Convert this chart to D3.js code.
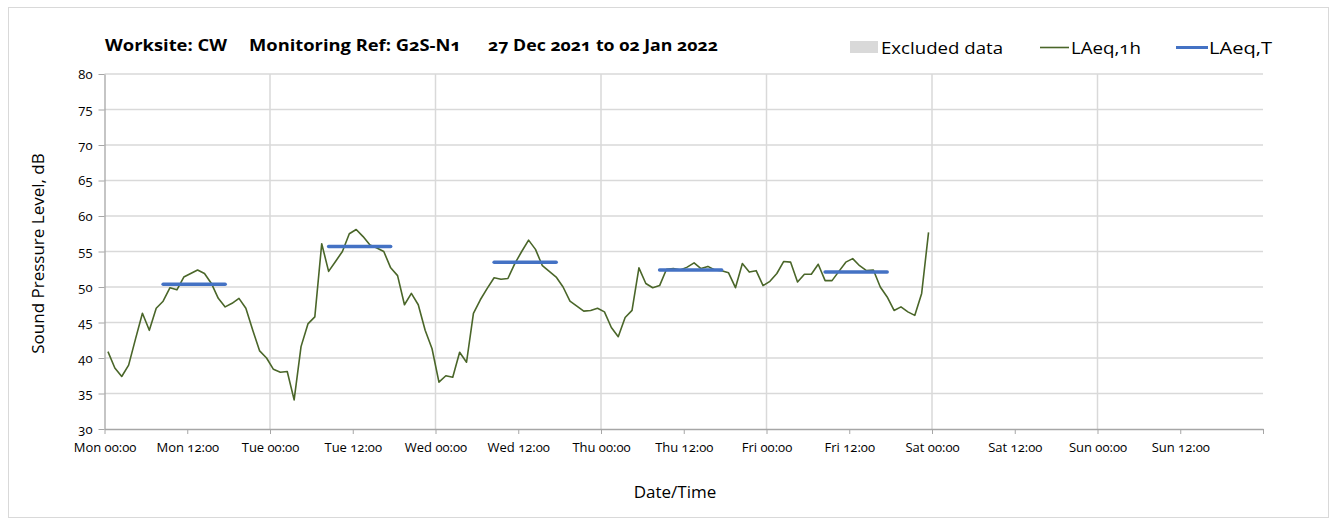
<!DOCTYPE html>
<html lang="en">
<head>
<meta charset="UTF-8">
<title>Noise monitoring G2S-N1</title>
<script src="https://d3js.org/d3.v7.min.js"></script>
<style>
  body { margin: 0; background: #fff; }
  svg text { font-family: "Open Sans", "Noto Sans", sans-serif; fill: #000; font-variant-numeric: oldstyle-nums; }
</style>
</head>
<body>
<div id="chart"></div>
<script>

// hourly LAeq,1h values, Mon 27 Dec 00:00 onwards (one per hour)
const laeq1h = [
  40.9, 38.6, 37.4, 39.0, 42.7, 46.3, 43.9, 47.0, 48.0, 49.9, 49.6, 51.4,
  51.9, 52.4, 51.9, 50.5, 48.4, 47.2, 47.7, 48.4, 47.0, 43.9, 41.0, 40.0,
  38.4, 38.0, 38.1, 34.1, 41.6, 44.8, 45.8, 56.1, 52.2, 53.6, 55.0, 57.5,
  58.1, 57.1, 55.9, 55.5, 55.0, 52.7, 51.6, 47.5, 49.1, 47.5, 43.9, 41.3,
  36.6, 37.5, 37.3, 40.8, 39.4, 46.3, 48.2, 49.8, 51.3, 51.1, 51.2, 53.3,
  55.0, 56.6, 55.3, 53.0, 52.2, 51.4, 50.0, 48.0, 47.3, 46.6, 46.7, 47.0,
  46.5, 44.3, 43.0, 45.7, 46.7, 52.7, 50.5, 49.9, 50.2, 52.5, 52.6, 52.4,
  52.8, 53.4, 52.6, 52.9, 52.4, 52.3, 52.0, 49.9, 53.3, 52.1, 52.3, 50.2,
  50.8, 51.9, 53.6, 53.5, 50.7, 51.8, 51.8, 53.2, 50.9, 50.9, 52.2, 53.5,
  54.0, 53.0, 52.3, 52.4, 50.0, 48.6, 46.7, 47.2, 46.5, 46.0, 49.1, 57.7
];

// LAeq,T over the daytime period of each day (hour index from start)
const tStartHour = [8, 32, 56, 80, 104];
const tEndHour = [17, 41, 65, 89, 113];
const tValues = [50.4, 55.7, 53.5, 52.4, 52.1];

const yTicks = [30, 35, 40, 45, 50, 55, 60, 65, 70, 75, 80];
const legendNames = ["Excluded data", "LAeq,1h", "LAeq,T"];
const titleParts = ["Worksite: CW", "Monitoring Ref: G2S-N1", "27 Dec 2021 to 02 Jan 2022"];

const width = 1336, height = 524;
const start = new Date(Date.UTC(2021, 11, 27, 0, 0));
const end = new Date(Date.UTC(2022, 0, 3, 0, 0));
const hourDate = h => new Date(start.getTime() + h * 3600 * 1000);

const svg = d3.select('#chart').append('svg')
    .attr('width', width)
    .attr('height', height);

// outer chart border
svg.append('rect')
    .attr('x', 8.5).attr('y', 7.5)
    .attr('width', 1320).attr('height', 510)
    .attr('fill', 'none').attr('stroke', '#d9d9d9');

const x = d3.scaleUtc().domain([start, end]).range([104.5, 1263]);
const y = d3.scaleLinear().domain([30, 80]).range([429, 74]);

// horizontal grid
svg.append('g').selectAll('line')
    .data(yTicks.filter(d => d > 30))
    .join('line')
    .attr('x1', x(start)).attr('x2', x(end))
    .attr('y1', d => y(d)).attr('y2', d => y(d))
    .attr('stroke', '#d9d9d9').attr('stroke-width', 1.5);

// vertical grid at each midnight
const midnights = d3.utcDay.range(d3.utcDay.offset(start, 1), end);
svg.append('g').selectAll('line')
    .data(midnights)
    .join('line')
    .attr('x1', d => x(d)).attr('x2', d => x(d))
    .attr('y1', y(80)).attr('y2', y(30))
    .attr('stroke', '#d9d9d9').attr('stroke-width', 1.5);

// axes
const fmt = d3.utcFormat('%a %H:%M');
const xTicks = d3.utcHour.every(12).range(start, d3.utcHour.offset(end, 1));
const xAxis = svg.append('g')
    .attr('transform', `translate(0,${y(30)})`)
    .call(d3.axisBottom(x).tickValues(xTicks)
        .tickFormat(d => d < end ? fmt(d) : '')
        .tickSize(5).tickPadding(9).tickSizeOuter(0));
xAxis.select('.domain').attr('stroke', '#a6a6a6').attr('stroke-width', 1.3);
xAxis.selectAll('.tick line').attr('stroke', '#a6a6a6');
xAxis.selectAll('text').attr('font-size', 13);

const yAxis = svg.append('g')
    .attr('transform', `translate(${x(start)},0)`)
    .call(d3.axisLeft(y).tickValues(yTicks).tickSize(6).tickPadding(6).tickSizeOuter(0));
yAxis.select('.domain').attr('stroke', '#a6a6a6').attr('stroke-width', 1.3);
yAxis.selectAll('.tick line').attr('stroke', '#a6a6a6');
yAxis.selectAll('text').attr('font-size', 13);

// LAeq,1h line (points plotted at mid-hour)
const line = d3.line()
    .x((d, i) => x(hourDate(i + 0.5)))
    .y(d => y(d));
svg.append('path')
    .datum(laeq1h)
    .attr('d', line)
    .attr('fill', 'none')
    .attr('stroke', '#4a6629')
    .attr('stroke-width', 1.6)
    .attr('stroke-linejoin', 'round');

// LAeq,T segments
svg.append('g').selectAll('line')
    .data(tValues)
    .join('line')
    .attr('x1', (d, i) => x(hourDate(tStartHour[i] + 0.5)))
    .attr('x2', (d, i) => x(hourDate(tEndHour[i] + 0.5)))
    .attr('y1', d => y(d)).attr('y2', d => y(d))
    .attr('stroke', '#4472c4')
    .attr('stroke-width', 3.5)
    .attr('stroke-linecap', 'round');

// title
const titleX = [105, 249, 488];
const titleW = [122, 212, 230];
svg.append('g').selectAll('text')
    .data(titleParts)
    .join('text')
    .attr('x', (d, i) => titleX[i])
    .attr('y', 51)
    .attr('font-size', 15.5)
    .attr('font-weight', 'bold')
    .attr('textLength', (d, i) => titleW[i])
    .attr('lengthAdjust', 'spacingAndGlyphs')
    .text(d => d);

// legend
const legend = svg.append('g');
legend.append('rect')
    .attr('x', 850).attr('y', 41).attr('width', 28).attr('height', 12)
    .attr('fill', '#d9d9d9');
legend.append('line')
    .attr('x1', 1040).attr('x2', 1069).attr('y1', 47.5).attr('y2', 47.5)
    .attr('stroke', '#4a6629').attr('stroke-width', 1.6);
legend.append('line')
    .attr('x1', 1176).attr('x2', 1208).attr('y1', 47.5).attr('y2', 47.5)
    .attr('stroke', '#4472c4').attr('stroke-width', 3);
const legendX = [881, 1071, 1209];
const legendW = [122, 70, 63];
legend.selectAll('text')
    .data(legendNames)
    .join('text')
    .attr('x', (d, i) => legendX[i])
    .attr('y', 54)
    .attr('font-size', 17)
    .attr('textLength', (d, i) => legendW[i])
    .attr('lengthAdjust', 'spacingAndGlyphs')
    .text(d => d);

// axis titles
svg.append('text')
    .attr('transform', `translate(44,${(y(30) + y(80)) / 2 + 2}) rotate(-90)`)
    .attr('text-anchor', 'middle')
    .attr('font-size', 17)
    .text('Sound Pressure Level, dB');

svg.append('text')
    .attr('x', 675).attr('y', 498)
    .attr('text-anchor', 'middle')
    .attr('font-size', 17)
    .text('Date/Time');

</script>
</body>
</html>
